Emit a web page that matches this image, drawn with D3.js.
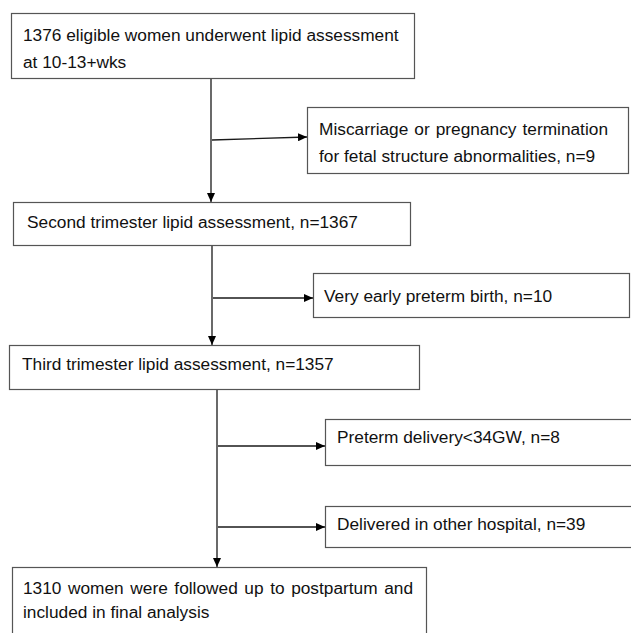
<!DOCTYPE html>
<html><head><meta charset="utf-8">
<script src="https://cdn.jsdelivr.net/npm/d3@7"></script>
<style>html,body{margin:0;padding:0;background:#fff;}svg{display:block;}</style>
</head><body>
<script>
// ---- data ----
const stageLabels = [
  ["1376 eligible women underwent lipid assessment", "at 10-13+wks"],
  ["Second trimester lipid assessment, n=1367"],
  ["Third trimester lipid assessment, n=1357"],
  ["1310 women were followed up to postpartum and", "included in final analysis"]
];
const stageCounts = [1376, 1367, 1357, 1310];
const exclusionLabels = [
  ["Miscarriage or pregnancy termination", "for fetal structure abnormalities, n=9"],
  ["Very early preterm birth, n=10"],
  ["Preterm delivery<34GW, n=8"],
  ["Delivered in other hospital, n=39"]
];
const exclusionCounts = [9, 10, 8, 39];
const exclusionAfterStage = [0, 1, 2, 2];

// ---- layout ----
const W = 631, H = 633;
const stageBoxes = [
  {x: 11, y: 13, w: 403, h: 65, tx: 23, ty: [41, 68], justify: [false, false]},
  {x: 13, y: 202, w: 397, h: 43, tx: 27, ty: [228], justify: [false]},
  {x: 9, y: 345, w: 410, h: 44, tx: 22, ty: [370], justify: [false]},
  {x: 12, y: 567, w: 414, h: 80, tx: 23, ty: [594, 618], justify: [true, false], jw: 390}
];
const exclBoxes = [
  {x: 307, y: 107, w: 321, h: 66, tx: 319, ty: [135, 162], justify: [true, false], jw: 289, ay0: 140, ay1: 137},
  {x: 313, y: 273, w: 316, h: 44, tx: 324, ty: [302], justify: [false], ay0: 298, ay1: 298},
  {x: 325, y: 419, w: 320, h: 46, tx: 337, ty: [443], justify: [false], ay0: 446, ay1: 446},
  {x: 325, y: 506, w: 320, h: 41, tx: 337, ty: [530], justify: [false], ay0: 527, ay1: 527}
];
const spineX = [211, 212, 217];

const FONT = "'Liberation Sans', Arial, sans-serif";
const FS = 17.3;
const lineColor = "#1a1a1a", boxColor = "#555", textColor = "#111";

const svg = d3.select("body").append("svg").attr("width", W).attr("height", H);

const defs = svg.append("defs");
defs.append("marker").attr("id", "arr").attr("viewBox", "0 0 10 10")
  .attr("refX", 10).attr("refY", 5).attr("markerWidth", 9).attr("markerHeight", 8)
  .attr("markerUnits", "userSpaceOnUse").attr("orient", "auto")
  .attr("preserveAspectRatio", "none")
  .append("path").attr("d", "M0,0 L10,5 L0,10 Z").attr("fill", "#000");

function drawText(g, lines, b) {
  lines.forEach((ln, i) => {
    if (b.justify[i]) {
      const words = ln.split(" ");
      const wg = g.append("g");
      const nodes = words.map(w => wg.append("text").attr("y", b.ty[i]).attr("font-family", FONT)
        .attr("font-size", FS).attr("fill", textColor).text(w));
      const widths = nodes.map(n => n.node().getComputedTextLength());
      const total = d3.sum(widths);
      const gap = (b.jw - total) / (words.length - 1);
      let x = b.tx;
      nodes.forEach((n, k) => { n.attr("x", x); x += widths[k] + gap; });
    } else {
      g.append("text").attr("x", b.tx).attr("y", b.ty[i]).attr("font-family", FONT)
        .attr("font-size", FS).attr("fill", textColor).text(ln);
    }
  });
}

// spine lines
const spine = svg.append("g").attr("stroke", lineColor).attr("stroke-width", 1.3).attr("fill", "none");
stageBoxes.slice(0, -1).forEach((b, i) => {
  const nb = stageBoxes[i + 1];
  spine.append("line").attr("x1", spineX[i]).attr("y1", b.y + b.h)
    .attr("x2", spineX[i]).attr("y2", nb.y).attr("marker-end", "url(#arr)");
});
// side arrows
exclBoxes.forEach((b, i) => {
  const sx = spineX[exclusionAfterStage[i]];
  spine.append("line").attr("x1", sx + 1).attr("y1", b.ay0).attr("x2", b.x).attr("y2", b.ay1)
    .attr("marker-end", "url(#arr)");
});

// boxes
stageBoxes.forEach((b, i) => {
  const g = svg.append("g");
  g.append("rect").attr("x", b.x + 0.5).attr("y", b.y + 0.5).attr("width", b.w).attr("height", b.h)
    .attr("fill", "#fff").attr("stroke", boxColor).attr("stroke-width", 1.2);
  drawText(g, stageLabels[i], b);
});
exclBoxes.forEach((b, i) => {
  const g = svg.append("g");
  g.append("rect").attr("x", b.x + 0.5).attr("y", b.y + 0.5).attr("width", b.w).attr("height", b.h)
    .attr("fill", "#fff").attr("stroke", boxColor).attr("stroke-width", 1.2);
  drawText(g, exclusionLabels[i], b);
});
</script>
</body></html>
